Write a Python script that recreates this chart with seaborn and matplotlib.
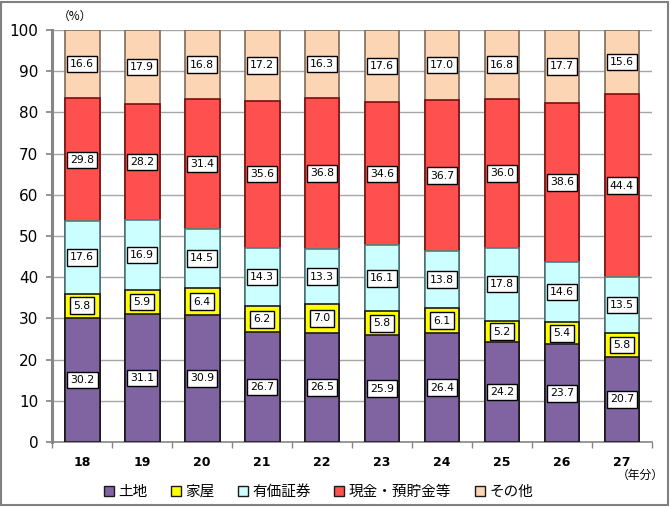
import numpy as np
import pandas as pd
import matplotlib
matplotlib.use("Agg")
from matplotlib import pyplot as plt
from matplotlib.patches import Rectangle
import seaborn as sns

# Data
years = ['18', '19', '20', '21', '22', '23', '24', '25', '26', '27']
land = [30.2, 31.1, 30.9, 26.7, 26.5, 25.9, 26.4, 24.2, 23.7, 20.7]
house = [5.8, 5.9, 6.4, 6.2, 7.0, 5.8, 6.1, 5.2, 5.4, 5.8]
securities = [17.6, 16.9, 14.5, 14.3, 13.3, 16.1, 13.8, 17.8, 14.6, 13.5]
cash = [29.8, 28.2, 31.4, 35.6, 36.8, 34.6, 36.7, 36.0, 38.6, 44.4]
other = [16.6, 17.9, 16.8, 17.2, 16.3, 17.6, 17.0, 16.8, 17.7, 15.6]

series_names = ['土地', '家屋', '有価証券', '現金・預貯金等', 'その他']
colors = ['#8064A2', '#FFFF00', '#CCFFFF', '#FF5050', '#FCD5B5']
edges = ['#1a1a1a', '#1a1a1a', '#4d7f7f', '#7a1010', '#7f6a5a']

sns.set_theme(style='white')
plt.rcParams['font.family'] = ['Noto Sans CJK JP', 'DejaVu Sans']

df = pd.DataFrame({'year': years, '土地': land, '家屋': house,
                   '有価証券': securities, '現金・預貯金等': cash, 'その他': other})
cum = df[series_names].cumsum(axis=1)

fig = plt.figure(figsize=(6.7, 5.07), dpi=100)
ax = fig.add_axes([0.078, 0.128, 0.895, 0.813])

# stacked bars: draw cumulative totals from the top segment down
for i in range(len(series_names) - 1, -1, -1):
    sns.barplot(x=df['year'], y=cum[series_names[i]], color=colors[i],
                edgecolor=edges[i], linewidth=1.2, width=0.58,
                saturation=1, ax=ax)
for p in ax.patches:
    p.set_zorder(3)

# value labels
for i, name in enumerate(series_names):
    for j in range(len(years)):
        val = df[name][j]
        mid = cum[name][j] - val / 2
        ax.text(j, mid, '%.1f' % val, ha='center', va='center', fontsize=7.8,
                family='DejaVu Sans', color='black', zorder=5,
                bbox=dict(boxstyle='square,pad=0.3', fc='white', ec='black', lw=1))

ax.set_ylim(0, 100)
ax.set_xlim(-0.5, len(years) - 0.5)
ax.set_yticks(np.arange(0, 101, 10))
ax.set_axisbelow(True)
ax.yaxis.grid(True, color='#a6a6a6', lw=1)
ax.set_xlabel('')
ax.set_ylabel('')
ax.tick_params(axis='y', labelsize=11, length=4, color='#868686', left=True,
               pad=6, labelcolor='black')
ax.tick_params(axis='x', labelsize=9, length=0, pad=10, labelcolor='black')
for lab in ax.get_xticklabels():
    lab.set_fontweight('bold')
    lab.set_family('DejaVu Sans')
for lab in ax.get_yticklabels():
    lab.set_family('DejaVu Sans')
ax.set_xticks(np.arange(-0.5, len(years), 1), minor=True)
ax.tick_params(axis='x', which='minor', length=4, color='#868686', bottom=True)

for side in ['top', 'right']:
    ax.spines[side].set_visible(False)
ax.spines['left'].set_color('#868686')
ax.spines['left'].set_linewidth(2.2)
ax.spines['bottom'].set_color('#868686')
ax.spines['bottom'].set_linewidth(1.2)

fig.text(0.112, 0.968, '（%）', ha='center', va='center', fontsize=8.5, color='black')
fig.text(0.955, 0.062, '（年分）', ha='center', va='center', fontsize=8.5, color='black')

# legend
handles = [Rectangle((0, 0), 1, 1, fc=c, ec='#1a1a1a', lw=1) for c in colors]
leg = fig.legend(handles, series_names, loc='center', bbox_to_anchor=(0.475, 0.03),
                 ncol=5, frameon=False, fontsize=10.5, handlelength=0.7,
                 handleheight=0.7, handletextpad=0.3, columnspacing=1.6)
for t in leg.get_texts():
    t.set_color('black')

fig.add_artist(Rectangle((0.002, 0.003), 0.995, 0.993, transform=fig.transFigure,
                         fill=False, ec='#808080', lw=1.5))

fig.savefig('out.png', dpi=100)
